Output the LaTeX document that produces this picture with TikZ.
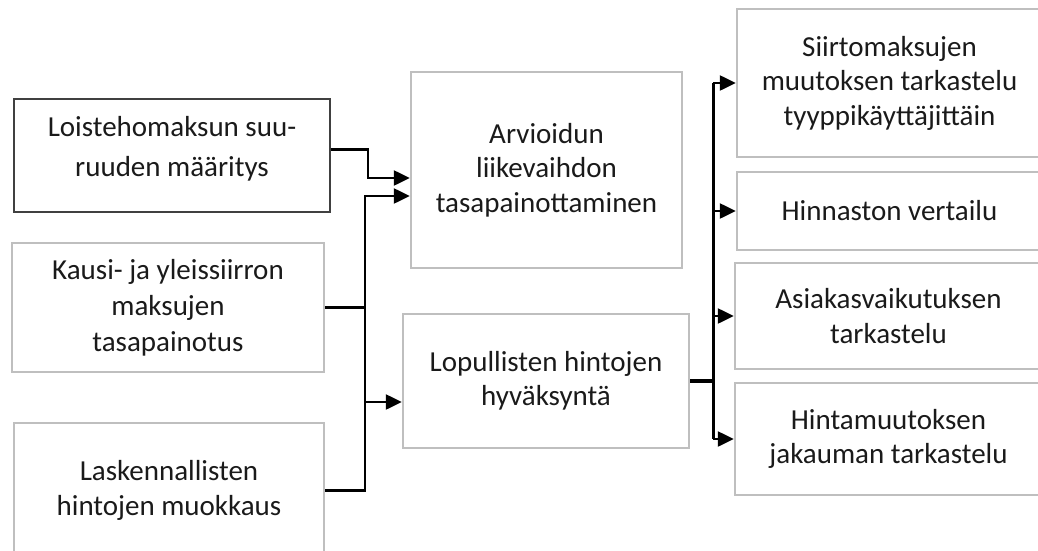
\documentclass[tikz,border=0pt]{standalone}
\usepackage{fontspec}
\setmainfont{Carlito}
\usetikzlibrary{arrows.meta,calc}
\definecolor{boxgray}{HTML}{BFBFBF}
\definecolor{boxdark}{HTML}{404040}
\definecolor{textdark}{HTML}{1A1A1A}
\tikzset{
    stepbox/.style={draw=boxgray, line width=1.4pt, align=center, inner sep=0pt, text=textdark,
        font=\fontsize{16.5}{19.6}\selectfont},
    conn/.style={line width=1.4pt},
    arrow/.style={conn, -{Triangle[length=0.32cm,width=0.3cm]}},
}
\begin{document}
\begin{tikzpicture}[x=0.02cm,y=-0.02cm]
    \useasboundingbox (0,0) rectangle (1038,551);
    \clip (0,0) rectangle (1038,551);
    % left column
    \node[stepbox, draw=boxdark, line width=1pt, font=\fontsize{16.5}{23.2}\selectfont, text depth=0.36cm,
        minimum width=316*0.02cm, minimum height=113*0.02cm] (L1) at (172,155.5) {Loistehomaksun suu-\\ruuden määritys};
    \node[stepbox, font=\fontsize{16.5}{20.5}\selectfont, minimum width=312*0.02cm, minimum height=129*0.02cm] (L2) at (168,307.5) {Kausi- ja yleissiirron\\maksujen\\tasapainotus};
    \node[stepbox, minimum width=310*0.02cm, minimum height=135*0.02cm] (L3) at (169,490.5) {Laskennallisten\\hintojen muokkaus};
    % middle column
    \node[stepbox, minimum width=271*0.02cm, minimum height=196*0.02cm] (A) at (546.5,170) {Arvioidun\\liikevaihdon\\tasapainottaminen};
    \node[stepbox, minimum width=286*0.02cm, minimum height=134*0.02cm] (P) at (546,381) {Lopullisten hintojen\\hyväksyntä};
    % right column
    \node[stepbox, minimum width=305*0.02cm, minimum height=148*0.02cm] (R1) at (889.5,83) {Siirtomaksujen\\muutoksen tarkastelu\\tyyppikäyttäjittäin};
    \node[stepbox, minimum width=305*0.02cm, minimum height=78*0.02cm] (R2) at (889.5,211) {Hinnaston vertailu};
    \node[stepbox, minimum width=307*0.02cm, minimum height=106*0.02cm] (R3) at (888.5,316) {Asiakasvaikutuksen\\tarkastelu};
    \node[stepbox, minimum width=307*0.02cm, minimum height=112*0.02cm] (R4) at (888.5,439) {Hintamuutoksen\\jakauman tarkastelu};
    % connectors
    \coordinate (join) at ($(L2.east)+(40,0)$);
    \draw[arrow] ($(L1.east)+(0,-6)$) -- ++(37,0) |- ($(A.west)+(0,8)$);
    \draw[arrow] (L2.east) -| (join) |- ($(A.west)+(0,26)$);
    \draw[conn] (L3.east) -| (join);
    \draw[arrow] (join |- P.west) ++(0,21) -- ($(P.west)+(0,21)$);
    \coordinate (bus) at ($(P.east)+(23,0)$);
    \draw[line width=2.8pt] (P.east) -- (bus);
    \draw[line width=1.7pt] (bus |- R1.west) -- (bus |- R4.west);
    \foreach \r in {R1,R2,R3,R4}
        \draw[arrow] (bus |- \r.west) -- (\r.west);
\end{tikzpicture}
\end{document}
